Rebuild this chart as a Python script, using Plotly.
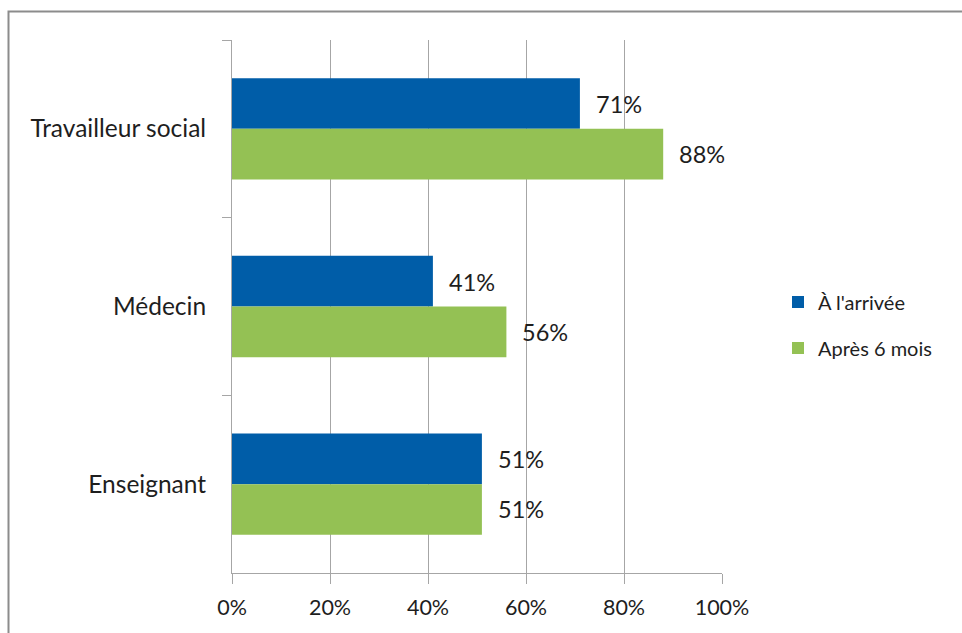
import plotly.graph_objects as go

# Categories (top to bottom) and the two series, in percent
categories = ["Travailleur social", "Médecin", "Enseignant"]
arrivee = [71, 41, 51]
apres_6_mois = [88, 56, 51]
series_names = ["À l'arrivée", "Après 6 mois"]
x_tick_values = [0, 20, 40, 60, 80, 100]
x_tick_labels = ["0%", "20%", "40%", "60%", "80%", "100%"]

BLUE = "#005DA8"
GREEN = "#94C154"
TEXT = "#1E1E1E"
FONT = "Lato, Open Sans, sans-serif"

W, H = 962, 633
L, R, T, B = 232, 240, 40, 60
plot_w = W - L - R
plot_h = H - T - B

fig = go.Figure()
for name, vals, col in [(series_names[0], arrivee, BLUE), (series_names[1], apres_6_mois, GREEN)]:
    fig.add_trace(go.Bar(
        y=categories, x=vals, orientation="h", name=name,
        marker=dict(color=col, line=dict(width=0)),
        legendgroup=name,
    ))

# Value labels to the right of each bar
for vals, shift in [(arrivee, 25), (apres_6_mois, -25)]:
    for cat, v in zip(categories, vals):
        fig.add_annotation(
            x=v, y=cat, text=f"{v}%", showarrow=False,
            xanchor="left", xshift=14, yshift=shift,
            font=dict(family=FONT, size=23.5, color=TEXT),
        )

# Outer frame of the chart area
def px_to_paper_x(px):
    return (px - L) / plot_w

def px_to_paper_y(py):
    return (H - B - py) / plot_h

fig.add_shape(
    type="rect", xref="paper", yref="paper",
    x0=px_to_paper_x(8.5), x1=px_to_paper_x(990),
    y0=px_to_paper_y(660), y1=px_to_paper_y(11.5),
    line=dict(color="#8C8C8C", width=2), fillcolor="rgba(0,0,0,0)", layer="below",
)

fig.update_layout(
    width=W, height=H,
    margin=dict(l=L, r=R, t=T, b=B, pad=0),
    paper_bgcolor="white", plot_bgcolor="white",
    barmode="group", bargap=0.43, bargroupgap=0,
    font=dict(family=FONT, size=19, color=TEXT),
    showlegend=True,
    legend=dict(
        x=px_to_paper_x(778), y=px_to_paper_y(325), xanchor="left", yanchor="middle",
        font=dict(family=FONT, size=20, color=TEXT),
        tracegroupgap=17, itemwidth=30, bgcolor="rgba(0,0,0,0)",
    ),
    xaxis=dict(
        range=[0, 100], tickvals=x_tick_values, ticktext=x_tick_labels,
        showgrid=True, gridcolor="#A6A6A6", gridwidth=1,
        showline=True, linecolor="#A6A6A6", linewidth=1,
        ticks="outside", ticklen=10, tickcolor="#A6A6A6",
        zeroline=False, fixedrange=True, ticklabelstandoff=5,
        tickfont=dict(family=FONT, size=21.5, color=TEXT),
    ),
    yaxis=dict(
        autorange="reversed", type="category",
        showline=True, linecolor="#A6A6A6", linewidth=1,
        ticks="outside", ticklen=9, tickcolor="#A6A6A6", tickson="boundaries",
        showgrid=False, ticklabelstandoff=20,
        tickfont=dict(family=FONT, size=24.5, color=TEXT),
    ),
)

fig.write_html("out.html")
